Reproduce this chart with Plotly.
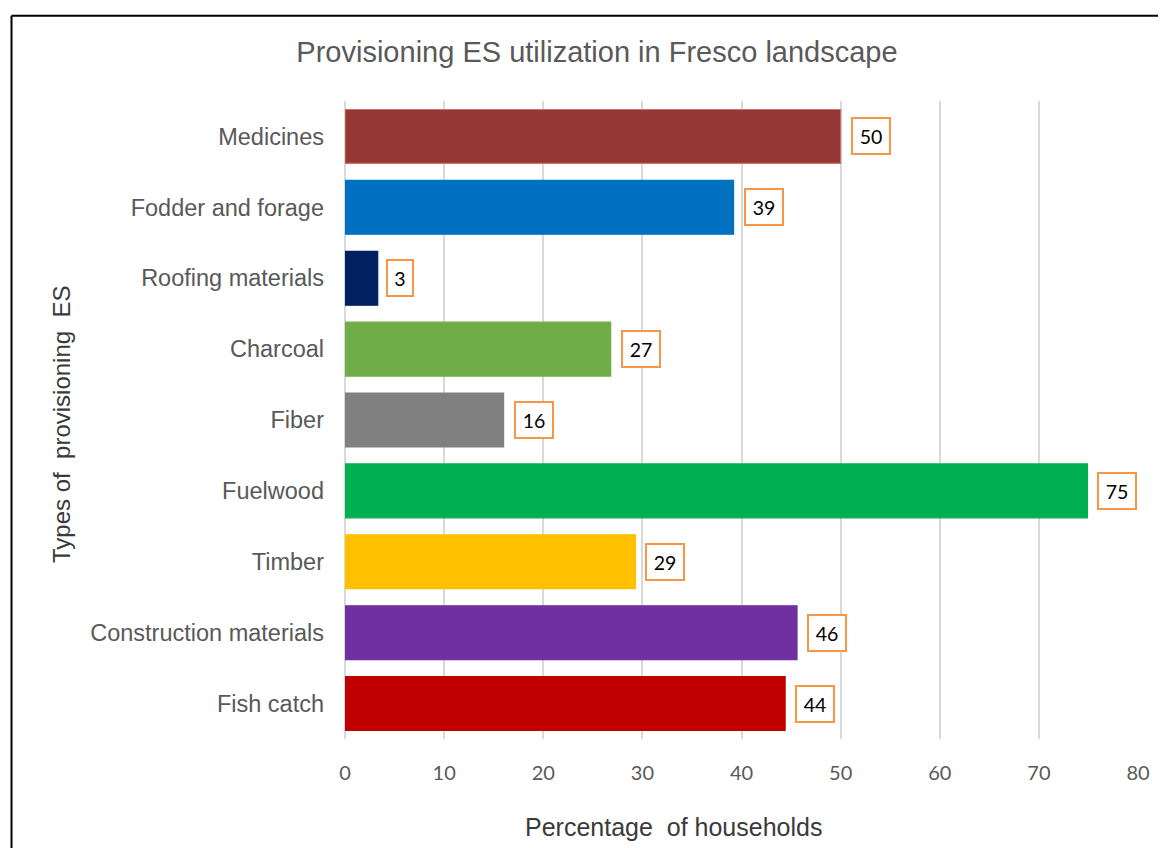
import plotly.graph_objects as go

categories = ["Fish catch", "Construction materials", "Timber", "Fuelwood", "Fiber",
              "Charcoal", "Roofing materials", "Fodder and forage", "Medicines"]
values = [44.4, 45.6, 29.3, 74.9, 16.0, 26.8, 3.3, 39.2, 50.0]
labels = ["44", "46", "29", "75", "16", "27", "3", "39", "50"]
colors = ["#C00000", "#7030A0", "#FFC000", "#00B050", "#808080",
          "#70AD47", "#002060", "#0070C0", "#953735"]
line_colors = ["#C00000", "#7030A0", "#FFC000", "#00B050", "#808080",
               "#70AD47", "#002060", "#0070C0", "#D0706E"]
x_ticks = [0, 10, 20, 30, 40, 50, 60, 70, 80]

OFF = 8  # page body margin
W, H = 1166 - OFF, 848 - OFF
L = 345 - OFF
PR = 1138 - OFF
PT = 100.5 - OFF
PB = 739.5 - OFF
R, T, B = W - PR, PT, H - PB
pw, ph = PR - L, PB - PT


def px(xp):
    return (xp - OFF - L) / pw


def py(yp):
    return (PB - (yp - OFF)) / ph


fig = go.Figure()
fig.add_trace(go.Bar(
    x=values, y=categories, orientation="h",
    marker=dict(color=colors, line=dict(color=line_colors, width=1.2)),
    hoverinfo="skip",
))

annotations = []
for c, v, t in zip(categories, values, labels):
    annotations.append(dict(
        x=v, y=c, xref="x", yref="y", text=t, showarrow=False,
        xanchor="left", yanchor="middle", xshift=8 if len(t) == 1 else 10,
        font=dict(family="Lato, Carlito, sans-serif", size=19.5, color="#000000"),
        bordercolor="#F79646", borderwidth=2, borderpad=0,
        width=12 * len(t) + 12, height=34, align="center", bgcolor="#FFFFFF",
    ))

annotations.append(dict(
    text="Percentage  of households", xref="paper", yref="paper",
    x=px(673), y=py(828), showarrow=False,
    xanchor="center", yanchor="middle",
    font=dict(family="Liberation Sans, Arial, sans-serif", size=25, color="#3A3A3A"),
))
annotations.append(dict(
    text="Types of  provisioning  ES", xref="paper", yref="paper",
    x=px(62), y=py(425), showarrow=False, textangle=-90,
    xanchor="center", yanchor="middle",
    font=dict(family="Liberation Sans, Arial, sans-serif", size=24, color="#3A3A3A"),
))

shapes = [
    dict(type="line", xref="paper", yref="paper",
         x0=px(11.5), x1=px(11.5), y0=py(870), y1=py(15),
         line=dict(color="#000000", width=2)),
    dict(type="line", xref="paper", yref="paper",
         x0=px(11.5), x1=px(1190), y0=py(15), y1=py(15),
         line=dict(color="#000000", width=2)),
]

fig.update_layout(
    width=W, height=H,
    margin=dict(l=L, r=R, t=T, b=B, autoexpand=False),
    paper_bgcolor="#FFFFFF", plot_bgcolor="#FFFFFF",
    bargap=0.24,
    showlegend=False,
    title=dict(
        text="Provisioning ES utilization in Fresco landscape",
        x=(597 - OFF) / W, xref="container", xanchor="center",
        y=1 - (52 - OFF) / H, yref="container", yanchor="middle",
        font=dict(family="Liberation Sans, Arial, sans-serif", size=29, color="#595959"),
    ),
    xaxis=dict(
        range=[0, 80], tickvals=x_ticks, ticktext=[str(v) for v in x_ticks],
        showgrid=True, gridcolor="#D9D9D9", gridwidth=1.5,
        zeroline=True, zerolinecolor="#D9D9D9", zerolinewidth=1.5,
        showline=False, ticks="", ticklabelstandoff=20,
        tickfont=dict(family="Lato, Carlito, sans-serif", size=20, color="#595959"),
        fixedrange=True,
    ),
    yaxis=dict(
        categoryorder="array", categoryarray=categories,
        range=[-0.5, len(categories) - 0.5],
        showgrid=False, zeroline=False, showline=False, ticks="",
        ticklabelstandoff=20,
        tickfont=dict(family="Liberation Sans, Arial, sans-serif", size=23.5, color="#595959"),
        fixedrange=True,
    ),
    annotations=annotations,
    shapes=shapes,
)

fig.write_html("out.html")
